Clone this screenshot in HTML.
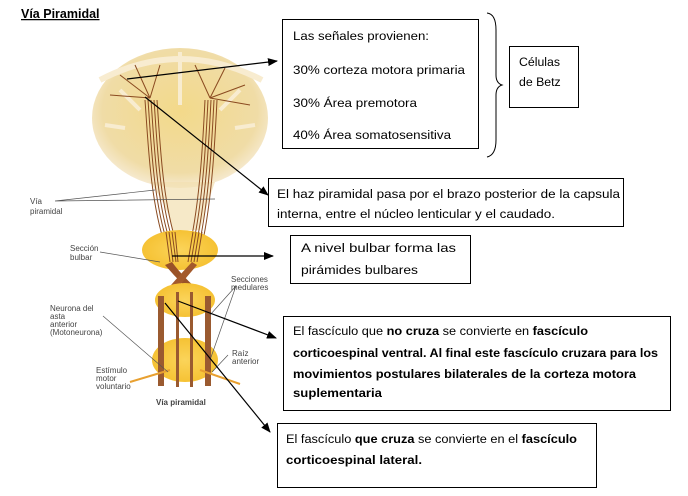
<!DOCTYPE html>
<html><head><meta charset="utf-8"><style>
html,body{margin:0;padding:0;background:#fff;}
svg{display:block;}
.t{font-family:"Liberation Sans",sans-serif;font-size:12.3px;fill:#000;}
.s{font-family:"Liberation Sans",sans-serif;font-size:8px;fill:#444;}
.b{font-weight:bold;}
</style></head><body>
<svg width="688" height="496" viewBox="0 0 688 496" xmlns="http://www.w3.org/2000/svg">
<defs>
<marker id="a" markerWidth="10" markerHeight="8" refX="9" refY="4" orient="auto" markerUnits="userSpaceOnUse">
<path d="M0,0 L10,4 L0,8 z" fill="#000"/></marker>
<radialGradient id="br" cx="50%" cy="45%" r="55%"><stop offset="0" stop-color="#f3d98a"/><stop offset="0.8" stop-color="#f0dca6"/><stop offset="1" stop-color="#f6ead0"/></radialGradient>
<radialGradient id="or" cx="50%" cy="50%" r="55%"><stop offset="0" stop-color="#fbd45a"/><stop offset="1" stop-color="#f5c030"/></radialGradient>
</defs>
<text x="21" y="18" class="t b" style="font-size:12.5px;text-decoration:underline">Vía Piramidal</text>
<!-- brain -->
<ellipse cx="180" cy="118" rx="88" ry="70" fill="url(#br)"/>
<path d="M100,80 Q180,38 262,80" fill="none" stroke="#f8ecd0" stroke-width="6"/>
<path d="M180,52 L180,105 M120,90 L140,110 M240,90 L220,110 M105,125 L125,128 M255,125 L235,128" stroke="#f8ecd0" stroke-width="4"/>
<path d="M150,182 Q170,210 172,230 L200,230 Q205,210 215,182 Z" fill="#f2e0b0" opacity="0.7"/>
<!-- fibers -->
<g fill="none" stroke="#8a4a20" stroke-width="1">
<path d="M145,100 C148,140 150,200 165,245"/><path d="M148,100 C151,140 153,200 168,245"/><path d="M151,100 C154,140 156,200 171,245"/><path d="M154,100 C157,140 159,200 174,245"/><path d="M157,100 C160,140 162,200 177,245"/>
<path d="M205,100 C203,140 200,200 190,245"/><path d="M208,100 C206,140 203,200 193,245"/><path d="M211,100 C209,140 206,200 196,245"/><path d="M214,100 C212,140 209,200 199,245"/><path d="M217,100 C215,140 212,200 202,245"/>
<path d="M150,98 L120,75 M150,98 L135,65 M150,98 L160,65 M150,98 L110,95 M210,98 L195,65 M210,98 L225,68 M210,98 L245,85 M210,98 L250,105"/>
</g>
<!-- medulla -->
<ellipse cx="180" cy="250" rx="38" ry="20" fill="url(#or)"/>
<g fill="none" stroke="#8a4a20" stroke-width="1">
<path d="M166,232 L170,262 M169,232 L173,262 M172,232 L176,262 M175,232 L178,262"/>
<path d="M193,232 L188,262 M196,232 L191,262 M199,232 L194,262 M202,232 L197,262"/>
</g>
<path d="M172,262 Q185,280 210,300 L205,305 Q182,285 165,265 Z" fill="#9a5228"/>
<path d="M192,262 Q175,280 158,300 L163,305 Q180,285 197,265 Z" fill="#a45a2c"/>
<ellipse cx="185" cy="300" rx="30" ry="17" fill="url(#or)"/>
<ellipse cx="185" cy="360" rx="33" ry="22" fill="url(#or)"/>
<g fill="#9a5a30">
<rect x="158" y="296" width="6" height="90"/><rect x="205" y="296" width="6" height="90"/>
<rect x="176" y="292" width="3" height="95"/><rect x="190" y="292" width="3" height="95"/>
</g>
<path d="M130,382 L170,370 M240,384 L200,370" stroke="#e8a030" stroke-width="2"/>
<g stroke="#555" stroke-width="0.7" fill="none">
<path d="M55,201 L155,190 M55,201 L215,199 M100,252 L160,262 M103,316 L168,372 M236,286 L210,315 M236,286 L210,360 M228,355 L212,372"/>
</g>
<text x="30" y="204" class="s">Vía</text><text x="30" y="214" class="s">piramidal</text>
<text x="70" y="251" class="s">Sección</text><text x="70" y="260" class="s">bulbar</text>
<text x="231" y="282" class="s">Secciones</text><text x="231" y="290" class="s">medulares</text>
<text x="50" y="311" class="s">Neurona del</text><text x="50" y="319" class="s">asta</text><text x="50" y="327" class="s">anterior</text><text x="50" y="335" class="s">(Motoneurona)</text>
<text x="232" y="356" class="s">Raíz</text><text x="232" y="364" class="s">anterior</text>
<text x="96" y="373" class="s">Estímulo</text><text x="96" y="381" class="s">motor</text><text x="96" y="389" class="s">voluntario</text>
<text x="156" y="405" class="s b">Vía piramidal</text>
<!-- arrows -->
<g stroke="#000" stroke-width="1.2" fill="none" marker-end="url(#a)">
<line x1="127" y1="79" x2="277" y2="61"/>
<line x1="145" y1="97" x2="268" y2="195"/>
<line x1="172" y1="256" x2="273" y2="256"/>
<line x1="178" y1="301" x2="276" y2="338"/>
<line x1="165" y1="303" x2="270" y2="432"/>
</g>
<!-- boxes -->
<g fill="#fff" stroke="#000" stroke-width="1">
<rect x="282.5" y="19.5" width="196" height="129"/>
<rect x="509.5" y="46.5" width="69" height="61"/>
<rect x="268.5" y="178.5" width="355" height="48"/>
<rect x="290.5" y="235.5" width="180" height="48"/>
<rect x="283.5" y="316.5" width="387" height="94"/>
<rect x="277.5" y="423.5" width="319" height="64"/>
</g>
<path d="M487,13 Q496,14 496,30 L496,75 Q496,83 502,85 Q496,87 496,95 L496,140 Q496,155 487,157" fill="none" stroke="#000" stroke-width="1"/>
<g lengthAdjust="spacingAndGlyphs">
<text x="293" y="40" class="t" textLength="136" lengthAdjust="spacingAndGlyphs">Las señales provienen:</text>
<text x="293" y="74" class="t" textLength="172" lengthAdjust="spacingAndGlyphs">30% corteza motora primaria</text>
<text x="293" y="107" class="t" textLength="124" lengthAdjust="spacingAndGlyphs">30% Área premotora</text>
<text x="293" y="139" class="t" textLength="158" lengthAdjust="spacingAndGlyphs">40% Área somatosensitiva</text>
<text x="519" y="66" class="t">Células</text>
<text x="519" y="86" class="t">de Betz</text>
<text x="277" y="198" class="t" textLength="343" lengthAdjust="spacingAndGlyphs">El haz piramidal pasa por el brazo posterior de la capsula</text>
<text x="277" y="218" class="t" textLength="278" lengthAdjust="spacingAndGlyphs">interna, entre el núcleo lenticular y el caudado.</text>
<text x="301" y="252" class="t" textLength="155" lengthAdjust="spacingAndGlyphs">A nivel bulbar forma las</text>
<text x="301" y="274" class="t" textLength="117" lengthAdjust="spacingAndGlyphs">pirámides bulbares</text>
<text x="293" y="335" class="t" textLength="295" lengthAdjust="spacingAndGlyphs">El fascículo que <tspan class="b">no cruza</tspan> se convierte en <tspan class="b">fascículo</tspan></text>
<text x="293" y="357" class="t b" textLength="365" lengthAdjust="spacingAndGlyphs">corticoespinal ventral. Al final este fascículo cruzara para los</text>
<text x="293" y="378" class="t b" textLength="343" lengthAdjust="spacingAndGlyphs">movimientos postulares bilaterales de la corteza motora</text>
<text x="293" y="397" class="t b" textLength="89" lengthAdjust="spacingAndGlyphs">suplementaria</text>
<text x="286" y="443" class="t" textLength="291" lengthAdjust="spacingAndGlyphs">El fascículo <tspan class="b">que cruza</tspan> se convierte en el <tspan class="b">fascículo</tspan></text>
<text x="286" y="464" class="t b" textLength="136" lengthAdjust="spacingAndGlyphs">corticoespinal lateral.</text>
</g>
</svg>
</body></html>
